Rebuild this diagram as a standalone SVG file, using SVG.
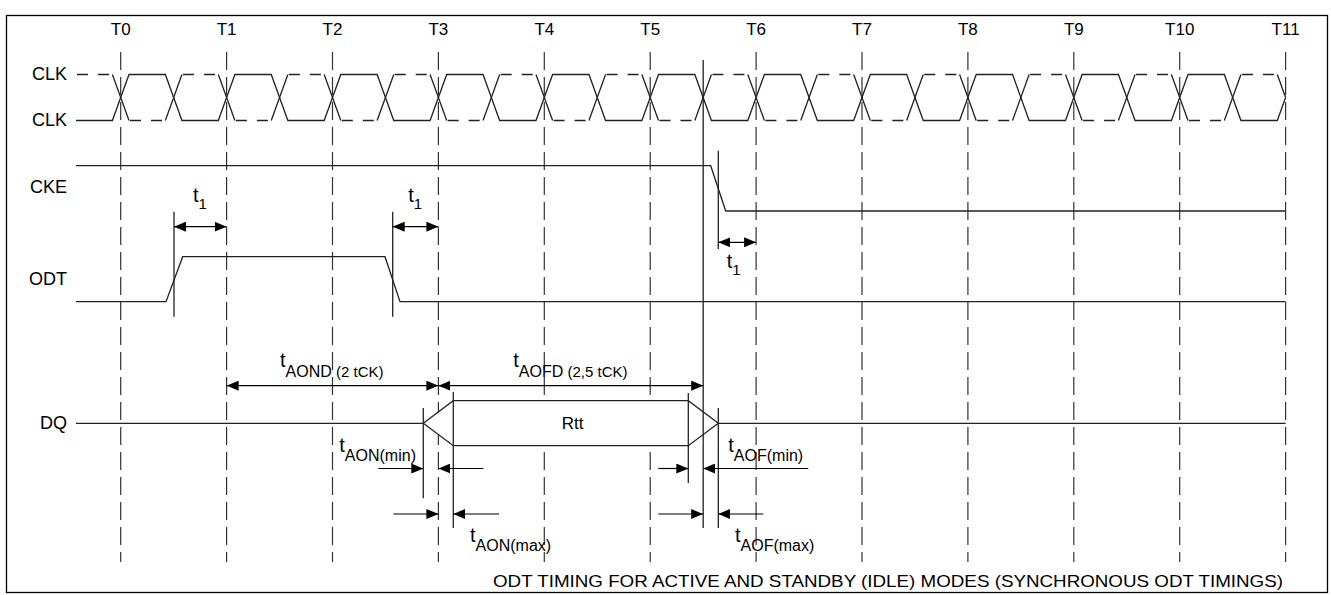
<svg xmlns="http://www.w3.org/2000/svg" width="1331" height="595" viewBox="0 0 1331 595">
<defs>
<marker id="ah" viewBox="0 0 12 10" refX="12" refY="5" markerWidth="12" markerHeight="10" markerUnits="userSpaceOnUse" orient="auto-start-reverse"><path d="M0,0 L12,5 L0,10 z" fill="#000"/></marker>
</defs>
<style>
.ln{fill:none;stroke:#222;stroke-width:1.3}
.grid{fill:none;stroke:#333;stroke-width:1.2;stroke-dasharray:18 7}
.dsh{fill:none;stroke:#222;stroke-width:1.3;stroke-dasharray:0 1 11 10 11 100}
.arr{fill:none;stroke:#000;stroke-width:1.2;marker-end:url(#ah)}
.arr2{fill:none;stroke:#000;stroke-width:1.2;marker-start:url(#ah);marker-end:url(#ah)}
text{font-family:"Liberation Sans",Arial,Helvetica,sans-serif;fill:#000}
.lbl{font-size:18px;text-anchor:end}
.tl{font-size:17px;text-anchor:middle}
.t{font-size:20px}
.s{font-size:16px}
.s2{font-size:15px}
</style>
<rect x="6.5" y="15.5" width="1321" height="577" fill="#fff" stroke="#000" stroke-width="1.3"/>

<g id="time-grid">
<g class="grid">
<line x1="120.7" y1="52" x2="120.7" y2="562"/>
<line x1="226.6" y1="52" x2="226.6" y2="562"/>
<line x1="332.5" y1="52" x2="332.5" y2="562"/>
<line x1="438.4" y1="52" x2="438.4" y2="562"/>
<line x1="544.3" y1="52" x2="544.3" y2="562"/>
<line x1="650.2" y1="52" x2="650.2" y2="562"/>
<line x1="756.1" y1="52" x2="756.1" y2="562"/>
<line x1="862" y1="52" x2="862" y2="562"/>
<line x1="967.9" y1="52" x2="967.9" y2="562"/>
<line x1="1073.8" y1="52" x2="1073.8" y2="562"/>
<line x1="1179.7" y1="52" x2="1179.7" y2="562"/>
<line x1="1285.6" y1="52" x2="1285.6" y2="562"/>
</g>
<g class="tl">
<text x="120.7" y="35">T0</text>
<text x="226.6" y="35">T1</text>
<text x="332.5" y="35">T2</text>
<text x="438.4" y="35">T3</text>
<text x="544.3" y="35">T4</text>
<text x="650.2" y="35">T5</text>
<text x="756.1" y="35">T6</text>
<text x="862" y="35">T7</text>
<text x="967.9" y="35">T8</text>
<text x="1073.8" y="35">T9</text>
<text x="1179.7" y="35">T10</text>
<text x="1285.6" y="35">T11</text>
</g>
</g>

<g id="signal-labels" class="lbl">
<text x="67" y="80">CLK</text>
<text x="67" y="126">CLK</text>
<text x="67" y="193">CKE</text>
<text x="67" y="285">ODT</text>
<text x="67" y="429">DQ</text>
</g>

<g id="clk">
<path class="ln" d="M76 120.5 H112.4 L129 74.5 H165.35 L181.95 120.5 H218.3 L234.9 74.5 H271.25 L287.85 120.5 H324.2 L340.8 74.5 H377.15 L393.75 120.5 H430.1 L446.7 74.5 H483.05 L499.65 120.5 H536 L552.6 74.5 H588.95 L605.55 120.5 H641.9 L658.5 74.5 H694.85 L711.45 120.5 H747.8 L764.4 74.5 H800.75 L817.35 120.5 H853.7 L870.3 74.5 H906.65 L923.25 120.5 H959.6 L976.2 74.5 H1012.55 L1029.15 120.5 H1065.5 L1082.1 74.5 H1118.45 L1135.05 120.5 H1171.4 L1188 74.5 H1224.35 L1240.95 120.5 H1277.3 L1285.6 97.5"/>
<path class="ln" d="M112.4 74.5 L129 120.5 M165.35 120.5 L181.95 74.5 M218.3 74.5 L234.9 120.5 M271.25 120.5 L287.85 74.5 M324.2 74.5 L340.8 120.5 M377.15 120.5 L393.75 74.5 M430.1 74.5 L446.7 120.5 M483.05 120.5 L499.65 74.5 M536 74.5 L552.6 120.5 M588.95 120.5 L605.55 74.5 M641.9 74.5 L658.5 120.5 M694.85 120.5 L711.45 74.5 M747.8 74.5 L764.4 120.5 M800.75 120.5 L817.35 74.5 M853.7 74.5 L870.3 120.5 M906.65 120.5 L923.25 74.5 M959.6 74.5 L976.2 120.5 M1012.55 120.5 L1029.15 74.5 M1065.5 74.5 L1082.1 120.5 M1118.45 120.5 L1135.05 74.5 M1171.4 74.5 L1188 120.5 M1224.35 120.5 L1240.95 74.5 M1277.3 74.5 L1285.6 97.5"/>
<g class="dsh">
<line x1="76" y1="74.5" x2="112.4" y2="74.5"/>
<line x1="129" y1="120.5" x2="165.35" y2="120.5"/>
<line x1="181.95" y1="74.5" x2="218.3" y2="74.5"/>
<line x1="234.9" y1="120.5" x2="271.25" y2="120.5"/>
<line x1="287.85" y1="74.5" x2="324.2" y2="74.5"/>
<line x1="340.8" y1="120.5" x2="377.15" y2="120.5"/>
<line x1="393.75" y1="74.5" x2="430.1" y2="74.5"/>
<line x1="446.7" y1="120.5" x2="483.05" y2="120.5"/>
<line x1="499.65" y1="74.5" x2="536" y2="74.5"/>
<line x1="552.6" y1="120.5" x2="588.95" y2="120.5"/>
<line x1="605.55" y1="74.5" x2="641.9" y2="74.5"/>
<line x1="658.5" y1="120.5" x2="694.85" y2="120.5"/>
<line x1="711.45" y1="74.5" x2="747.8" y2="74.5"/>
<line x1="764.4" y1="120.5" x2="800.75" y2="120.5"/>
<line x1="817.35" y1="74.5" x2="853.7" y2="74.5"/>
<line x1="870.3" y1="120.5" x2="906.65" y2="120.5"/>
<line x1="923.25" y1="74.5" x2="959.6" y2="74.5"/>
<line x1="976.2" y1="120.5" x2="1012.55" y2="120.5"/>
<line x1="1029.15" y1="74.5" x2="1065.5" y2="74.5"/>
<line x1="1082.1" y1="120.5" x2="1118.45" y2="120.5"/>
<line x1="1135.05" y1="74.5" x2="1171.4" y2="74.5"/>
<line x1="1188" y1="120.5" x2="1224.35" y2="120.5"/>
<line x1="1240.95" y1="74.5" x2="1277.3" y2="74.5"/>
</g>
</g>

<g id="cke">
<path class="ln" d="M76 165.7 H710.7 L725.7 211 H1285.6"/>
</g>

<g id="odt">
<path class="ln" d="M76 301.7 H166 L182.7 256.7 H385 L400 301.7 H1285.6"/>
</g>

<g id="dq">
<path class="ln" d="M76 423.3 H423.3 M718.3 423.3 H1285.6"/>
<path class="ln" fill="#fff" style="fill:#fff" d="M423.3 423.3 L453.3 400.7 H688.3 L718.3 423.3 L688.3 445.7 H453.3 Z"/>
<text x="572.5" y="429" style="font-size:17px;text-anchor:middle">Rtt</text>
</g>

<g id="reference-lines" class="ln">
<line x1="703.2" y1="60" x2="703.2" y2="528"/>
<line x1="718.3" y1="150.7" x2="718.3" y2="249"/>
<line x1="174" y1="211.7" x2="174" y2="316.7"/>
<line x1="392.7" y1="211.7" x2="392.7" y2="316.7"/>
<line x1="423.3" y1="408" x2="423.3" y2="498.3"/>
<line x1="453.3" y1="392" x2="453.3" y2="528"/>
<line x1="688.3" y1="393" x2="688.3" y2="483"/>
<line x1="718.3" y1="408" x2="718.3" y2="528"/>
</g>

<g id="connectors">
<line class="arr2" x1="174" y1="226.7" x2="226.6" y2="226.7"/>
<line class="arr2" x1="392.7" y1="226.7" x2="438.4" y2="226.7"/>
<line class="arr2" x1="718.3" y1="242.3" x2="756.1" y2="242.3"/>
<line class="arr2" x1="226.6" y1="385.7" x2="438.4" y2="385.7"/>
<line class="arr2" x1="438.4" y1="385.7" x2="703.2" y2="385.7"/>
<line class="arr" x1="378.3" y1="468.5" x2="423.3" y2="468.5"/>
<line class="arr" x1="483.3" y1="468.5" x2="438.4" y2="468.5"/>
<line class="arr" x1="393.3" y1="514" x2="438.4" y2="514"/>
<line class="arr" x1="499" y1="514" x2="453.3" y2="514"/>
<line class="arr" x1="658.3" y1="468.5" x2="688.3" y2="468.5"/>
<line class="arr" x1="808.3" y1="468.5" x2="703.2" y2="468.5"/>
<line class="arr" x1="658.3" y1="514" x2="703.2" y2="514"/>
<line class="arr" x1="763.3" y1="514" x2="718.3" y2="514"/>
</g>

<g id="timing-labels">
<text x="193" y="201.7" class="t">t<tspan class="s2" dy="7">1</tspan></text>
<text x="408.3" y="201.7" class="t">t<tspan class="s2" dy="7">1</tspan></text>
<text x="726.7" y="268.3" class="t">t<tspan class="s2" dy="7">1</tspan></text>
<text x="280" y="366.7" class="t">t<tspan class="s" dy="10">AOND</tspan><tspan class="s2"> (2 tCK)</tspan></text>
<text x="513.3" y="366.7" class="t">t<tspan class="s" dy="10">AOFD</tspan><tspan class="s2"> (2,5 tCK)</tspan></text>
<text x="339.3" y="452" class="t">t<tspan class="s" dy="9">AON(min)</tspan></text>
<text x="728.3" y="452" class="t">t<tspan class="s" dy="9">AOF(min)</tspan></text>
<text x="470" y="542" class="t">t<tspan class="s" dy="9">AON(max)</tspan></text>
<text x="735" y="542" class="t">t<tspan class="s" dy="9">AOF(max)</tspan></text>
</g>

<text id="caption" x="493" y="587" style="font-size:17px" textLength="790" lengthAdjust="spacingAndGlyphs">ODT TIMING FOR ACTIVE AND STANDBY (IDLE) MODES (SYNCHRONOUS ODT TIMINGS)</text>
</svg>
